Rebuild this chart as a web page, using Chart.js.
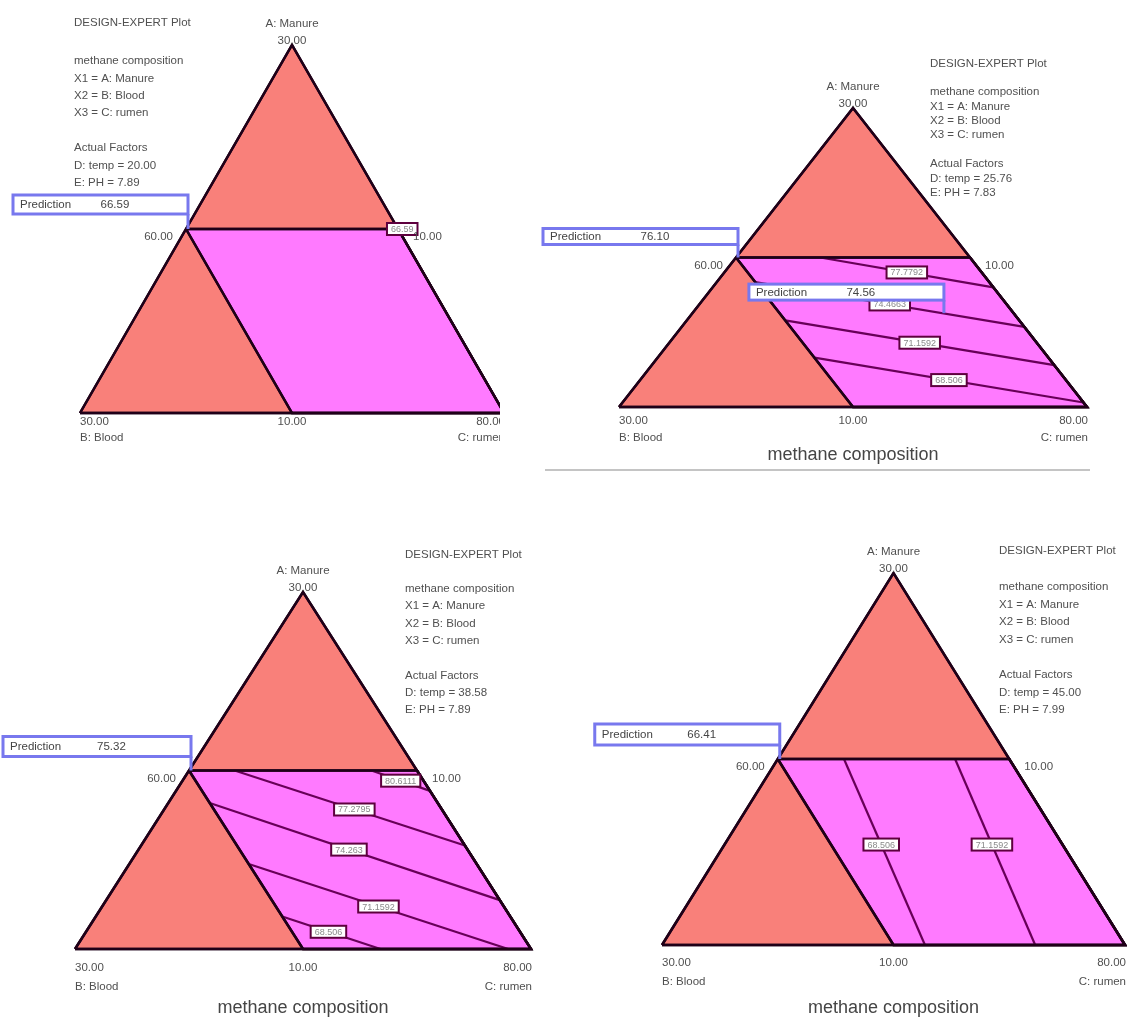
<!DOCTYPE html>
<html>
<head>
<meta charset="utf-8">
<script src="https://cdn.jsdelivr.net/npm/chart.js@4.4.0/dist/chart.umd.min.js"></script>
<style>
  html, body { margin: 0; padding: 0; background: #ffffff; }
  #wrap { position: relative; width: 1127px; height: 1020px; overflow: hidden; background: #ffffff; }
  #wrap canvas { position: absolute; left: 0; top: 0; }
</style>
</head>
<body>
<div id="wrap">
  <canvas id="p1" width="1127" height="1020" style="clip-path: inset(0 627px 0 0);"></canvas>
  <canvas id="p2" width="1127" height="1020"></canvas>
  <canvas id="p3" width="1127" height="1020"></canvas>
  <canvas id="p4" width="1127" height="1020"></canvas>
</div>
<script>
// ---- Mixture data: every point is a blend [A, B, C] of component fractions ----
const componentNames = ['A: Manure', 'B: Blood', 'C: rumen'];
const responseName = 'methane composition';
const tempValues = ['20.00', '25.76', '38.58', '45.00'];
const phValues = ['7.89', '7.83', '7.89', '7.99'];
// Actual-unit labels at: A apex, A=B edge midpoint, A=C edge midpoint, B vertex, B=C midpoint, C vertex
const vertexTickLabels = ['30.00', '60.00', '10.00', '30.00', '10.00', '80.00'];

const simplexVertices = [[0, 1, 0], [0, 0, 1], [1, 0, 0]];
const regionVertices = [[0.5, 0.5, 0], [0.5, 0, 0.5], [0, 0, 1], [0, 0.5, 0.5]];

// Contour lines: level text, start blend, end blend, label position along the line
const p1ContourLevels = ['66.59'];
const p1ContourStarts = [[0.5, 0.5, 0]];
const p1ContourEnds = [[0.5, 0, 0.5]];
const p1LabelAt = [1.02];

const p2ContourLevels = ['77.7792', '74.4663', '71.1592', '68.506'];
const p2ContourStarts = [[0.5, 0.32, 0.18], [0.418, 0.5, 0.082], [0.29, 0.5, 0.21], [0.165, 0.5, 0.335]];
const p2ContourEnds = [[0.40, 0, 0.60], [0.268, 0, 0.732], [0.14, 0, 0.86], [0.015, 0, 0.985]];
const p2LabelAt = [0.5, 0.5, 0.5, 0.5];

const p3ContourLevels = ['80.6111', '77.2795', '74.263', '71.1592', '68.506'];
const p3ContourStarts = [[0.5, 0.10, 0.40], [0.5, 0.40, 0.10], [0.409, 0.5, 0.091], [0.238, 0.5, 0.262], [0.091, 0.5, 0.409]];
const p3ContourEnds = [[0.443, 0, 0.557], [0.29, 0, 0.71], [0.137, 0, 0.863], [0, 0.05, 0.95], [0, 0.33, 0.67]];
const p3LabelAt = [0.5, 0.52, 0.48, 0.5, 0.47];

const p4ContourLevels = ['68.506', '71.1592'];
const p4ContourStarts = [[0.5, 0.357, 0.143], [0.5, 0.117, 0.383]];
const p4ContourEnds = [[0, 0.432, 0.568], [0, 0.194, 0.806]];
const p4LabelAt = [0.46, 0.46];

// Prediction flags: blend and predicted response
const p1PredPoints = [[0.5, 0.5, 0]];
const p1PredValues = ['66.59'];
const p2PredPoints = [[0.5, 0.5, 0], [0.314, 0.153, 0.533]];
const p2PredValues = ['76.10', '74.56'];
const p3PredPoints = [[0.5, 0.5, 0]];
const p3PredValues = ['75.32'];
const p4PredPoints = [[0.5, 0.5, 0]];
const p4PredValues = ['66.41'];

// ---- Layout (pixels) ----
const triangleBoxes = [[80, 504, 45, 413], [619, 1087, 108, 407], [75, 531, 592, 949], [662, 1125, 573, 945]]; // left, right, top, bottom
const legendPlacement = [[74, 23, 61, 17.4], [930, 64, 92, 14.4], [405, 555, 589, 17.3], [999, 551, 587, 17.6]]; // x, title y, first y, spacing
const bottomLabelY = [[422, 438], [421, 438], [968, 987], [963, 982]];
const titleY = [null, 455, 1008, 1008];
const predBoxSize = [[175, 19, 15], [195, 16, 13], [188, 20, 14], [185, 21, 14]]; // width, height, gap above point
const separatorLine = [545, 1090, 470];

// ---- Styles ----
const FONT = "'Liberation Sans', Arial, sans-serif";
const EDGE = '#1f0018';
const CONTOUR = '#680058';
const SALMON = '#f9807a';
const MAGENTA = '#ff7aff';
const LABEL_EDGE = '#5e003e';
const PRED_EDGE = '#7878ee';
const TEXT = '#505050';

const contourLevels = [p1ContourLevels, p2ContourLevels, p3ContourLevels, p4ContourLevels];
const contourStarts = [p1ContourStarts, p2ContourStarts, p3ContourStarts, p4ContourStarts];
const contourEnds = [p1ContourEnds, p2ContourEnds, p3ContourEnds, p4ContourEnds];
const contourLabelAt = [p1LabelAt, p2LabelAt, p3LabelAt, p4LabelAt];
const predPoints = [p1PredPoints, p2PredPoints, p3PredPoints, p4PredPoints];
const predValues = [p1PredValues, p2PredValues, p3PredValues, p4PredValues];

// Ternary projection: A at the apex, B bottom-left, C bottom-right
function toXY(t) { return { x: t[2] + t[0] / 2, y: t[0] }; }
function closed(pts) { return pts.concat([pts[0]]); }
function toPixel(chart, t) {
  const p = toXY(t);
  return [chart.scales.x.getPixelForValue(p.x), chart.scales.y.getPixelForValue(p.y)];
}

function text(ctx, str, x, y, size, align, color) {
  ctx.font = size + 'px ' + FONT;
  ctx.fillStyle = color || TEXT;
  ctx.textAlign = align || 'left';
  ctx.textBaseline = 'middle';
  ctx.fillText(str, x, y);
}

function makeAnnotations(i) {
  return {
    id: 'ternaryAnnotations' + i,
    afterDatasetsDraw(chart) {
      const ctx = chart.ctx;
      ctx.save();
      contourLevels[i].forEach((lab, k) => {
        const s = contourStarts[i][k], e = contourEnds[i][k], t = contourLabelAt[i][k];
        const m = s.map((v, j) => v + t * (e[j] - v));
        const [x, y] = toPixel(chart, m);
        ctx.font = '9px ' + FONT;
        const w = ctx.measureText(lab).width + 8, h = 12;
        ctx.fillStyle = '#ffffff';
        ctx.fillRect(x - w / 2, y - h / 2, w, h);
        ctx.strokeStyle = LABEL_EDGE;
        ctx.lineWidth = 2;
        ctx.strokeRect(x - w / 2, y - h / 2, w, h);
        text(ctx, lab, x, y + 0.5, 9, 'center', '#8a8a8a');
      });
      ctx.restore();
    },
    afterDraw(chart) {
      const ctx = chart.ctx;
      ctx.save();
      // Vertex and edge labels
      const apex = toPixel(chart, [1, 0, 0]);
      const leftMid = toPixel(chart, [0.5, 0.5, 0]);
      const rightMid = toPixel(chart, [0.5, 0, 0.5]);
      const vB = toPixel(chart, [0, 1, 0]);
      const baseMid = toPixel(chart, [0, 0.5, 0.5]);
      const vC = toPixel(chart, [0, 0, 1]);
      text(ctx, componentNames[0], apex[0], apex[1] - 21, 11.5, 'center');
      text(ctx, vertexTickLabels[0], apex[0], apex[1] - 4, 11.5, 'center');
      text(ctx, vertexTickLabels[1], leftMid[0] - 13, leftMid[1] + 8, 11.5, 'right');
      text(ctx, vertexTickLabels[2], rightMid[0] + 15, rightMid[1] + 8, 11.5, 'left');
      const [by1, by2] = bottomLabelY[i];
      text(ctx, vertexTickLabels[3], vB[0], by1, 11.5, 'left');
      text(ctx, componentNames[1], vB[0], by2, 11.5, 'left');
      text(ctx, vertexTickLabels[4], baseMid[0], by1, 11.5, 'center');
      text(ctx, vertexTickLabels[5], vC[0] + 1, by1, 11.5, 'right');
      text(ctx, componentNames[2], vC[0] + 1, by2, 11.5, 'right');
      if (titleY[i] !== null) {
        text(ctx, responseName, baseMid[0], titleY[i], 18, 'center', '#454545');
      }
      // Legend block
      const [lx, ly0, ly1, sp] = legendPlacement[i];
      text(ctx, 'DESIGN-EXPERT Plot', lx, ly0, 11.5);
      const lines = [responseName, 'X1 = ' + componentNames[0], 'X2 = ' + componentNames[1], 'X3 = ' + componentNames[2],
        null, 'Actual Factors', 'D: temp = ' + tempValues[i], 'E: PH = ' + phValues[i]];
      lines.forEach((s, k) => { if (s) text(ctx, s, lx, ly1 + k * sp, 11.5); });
      // Prediction flags
      const [bw, bh, gap] = predBoxSize[i];
      predPoints[i].forEach((pt, k) => {
        const [px, py] = toPixel(chart, pt);
        const right = px + 2, bottom = py - gap, left = right - bw, top = bottom - bh;
        ctx.fillStyle = '#ffffff';
        ctx.fillRect(left, top, bw, bh);
        ctx.strokeStyle = PRED_EDGE;
        ctx.lineWidth = 3;
        ctx.strokeRect(left, top, bw, bh);
        ctx.beginPath();
        ctx.moveTo(right, bottom);
        ctx.lineTo(right, py);
        ctx.stroke();
        text(ctx, 'Prediction', left + 7, top + bh / 2 + 0.5, 11.5, 'left', '#444444');
        text(ctx, predValues[i][k], left + bw * 0.5, top + bh / 2 + 0.5, 11.5, 'left', '#444444');
      });
      if (i === 1) {
        ctx.strokeStyle = '#c4c4c4';
        ctx.lineWidth = 2;
        ctx.beginPath();
        ctx.moveTo(separatorLine[0], separatorLine[2]);
        ctx.lineTo(separatorLine[1], separatorLine[2]);
        ctx.stroke();
      }
      ctx.restore();
    }
  };
}

function lineSet(points, opts) {
  return Object.assign({
    data: points.map(toXY),
    fill: false,
    borderColor: EDGE,
    borderWidth: 2.5,
    pointRadius: 0,
    tension: 0,
    clip: false,
    borderJoinStyle: 'miter'
  }, opts);
}

['p1', 'p2', 'p3', 'p4'].forEach((id, i) => {
  const [l, r, t, b] = triangleBoxes[i];
  const datasets = [
    lineSet(closed(simplexVertices), { fill: 'shape', backgroundColor: SALMON, order: 20 }),
    lineSet(closed(regionVertices), { fill: 'shape', backgroundColor: MAGENTA, order: 19 })
  ];
  contourLevels[i].forEach((lev, k) => {
    datasets.push(lineSet([contourStarts[i][k], contourEnds[i][k]], { borderColor: CONTOUR, borderWidth: 2.2, order: 10, label: lev }));
  });
  datasets.push(lineSet(closed(regionVertices), { order: 2 }));
  datasets.push(lineSet(closed(simplexVertices), { order: 1 }));

  new Chart(document.getElementById(id), {
    type: 'line',
    data: { datasets },
    options: {
      responsive: false,
      animation: false,
      devicePixelRatio: 1,
      events: [],
      layout: { padding: { left: l, right: 1127 - r, top: t, bottom: 1020 - b } },
      scales: {
        x: { type: 'linear', min: 0, max: 1, display: false },
        y: { type: 'linear', min: 0, max: 1, display: false }
      },
      plugins: { legend: { display: false }, tooltip: { enabled: false }, title: { display: false } }
    },
    plugins: [makeAnnotations(i)]
  });
});
</script>
</body>
</html>
